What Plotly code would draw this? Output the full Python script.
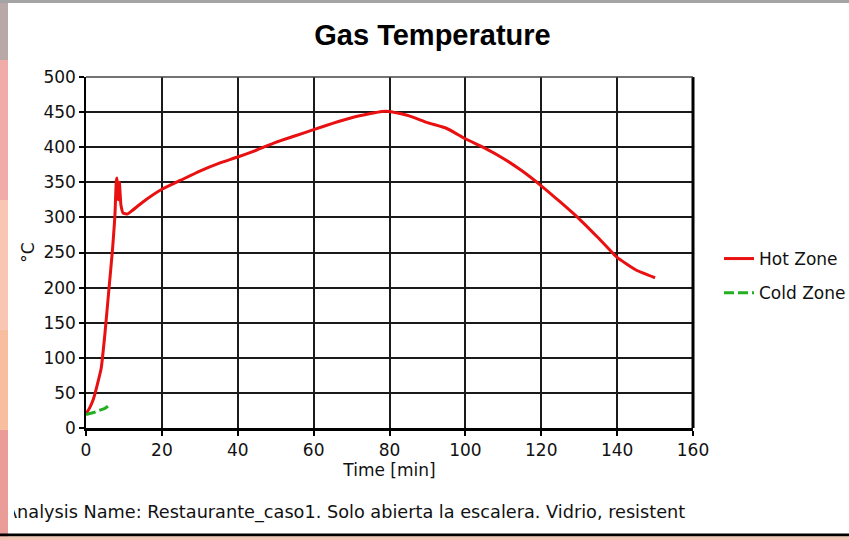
import plotly.graph_objects as go

# ---- data ----
hot_time = [0, 1, 2, 3, 4, 5, 6, 7, 7.6, 8.0, 8.2, 8.5, 8.8, 9.2, 9.8, 11, 12, 15,
            20, 25, 30, 35, 40, 45, 50, 55, 60, 65, 70, 75, 78, 80, 85, 90, 95,
            100, 105, 110, 115, 120, 125, 130, 135, 140, 145, 150]
hot_temp = [20, 29, 42, 62, 85, 135, 195, 255, 300, 352, 356, 325, 350, 318, 306, 305, 309, 322,
            340, 353, 366, 377, 386, 396, 407, 416, 425, 434, 442, 448, 451, 451, 445, 435, 427,
            412, 399, 384, 366, 345, 322, 298, 271, 243, 225, 214]

cold_time = [0, 1, 2, 3, 4, 5, 5.8]
cold_temp = [19, 20, 22, 24, 26, 28, 31]

x_ticks = [0, 20, 40, 60, 80, 100, 120, 140, 160]
y_ticks = [0, 50, 100, 150, 200, 250, 300, 350, 400, 450, 500]

W, H = 849, 540
L, R, T, B = 86, 156, 77, 112
PW, PH = W - L - R, H - T - B


def px(xp):
    return (xp - L) / PW


def py(yp):
    return (H - B - yp) / PH


FONT = "DejaVu Sans"
FS = 17

fig = go.Figure()
fig.add_trace(go.Scatter(x=hot_time, y=hot_temp, mode="lines", name="Hot Zone",
                         legendgroup="a", line_shape="spline",
                         line=dict(color="#e81010", width=3, smoothing=0.4)))
fig.add_trace(go.Scatter(x=cold_time, y=cold_temp, mode="lines", name="Cold Zone",
                         legendgroup="b",
                         line=dict(color="#22b022", width=3, dash="10px,4px")))

shapes = []
# decorative frame of the screenshot
strip = [(0, 60, "#b8a8a8"), (60, 200, "#f0aca6"), (200, 330, "#f8c6b2"),
         (330, 430, "#f7bea0"), (430, 540, "#e99c98")]
for y0, y1, c in strip:
    shapes.append(dict(type="rect", xref="paper", yref="paper", x0=px(0), x1=px(8),
                       y0=py(y1), y1=py(y0), fillcolor=c, line=dict(width=0), layer="below"))
shapes.append(dict(type="rect", xref="paper", yref="paper", x0=px(0), x1=px(W),
                   y0=py(3), y1=py(0), fillcolor="#a4a4a4", line=dict(width=0), layer="below"))
shapes.append(dict(type="rect", xref="paper", yref="paper", x0=px(0), x1=px(W),
                   y0=py(536.5), y1=py(533.5), fillcolor="#000000", line=dict(width=0), layer="below"))
shapes.append(dict(type="rect", xref="paper", yref="paper", x0=px(0), x1=px(W),
                   y0=py(540), y1=py(536.5), fillcolor="#f2c4b4", line=dict(width=0), layer="below"))
# plot frame: right thick border, thin top border
shapes.append(dict(type="line", xref="paper", yref="paper", x0=1, x1=1, y0=0, y1=1,
                   line=dict(color="#000000", width=3), layer="above"))
shapes.append(dict(type="line", xref="paper", yref="paper", x0=0, x1=1, y0=1, y1=1,
                   line=dict(color="#444444", width=1.5), layer="above"))

annotations = [
    dict(text="Analysis Name: Restaurante_caso1. Solo abierta la escalera. Vidrio, resistent",
         xref="paper", yref="paper", x=px(3), y=py(512), xanchor="left", yanchor="middle",
         showarrow=False, font=dict(family=FONT, size=17.7, color="#111111")),
    # screenshot crop edge hiding part of the first letter
    dict(text="\u00a0", xref="paper", yref="paper", x=px(8), y=py(512), xanchor="left",
         yanchor="middle", showarrow=False, width=6, height=30, bgcolor="#ffffff",
         borderpad=0, borderwidth=0),
    dict(text="\u00a0", xref="paper", yref="paper", x=px(0), y=py(512), xanchor="left",
         yanchor="middle", showarrow=False, width=8, height=30, bgcolor="#e99c98",
         borderpad=0, borderwidth=0),
]

fig.update_layout(
    width=W, height=H,
    margin=dict(l=L, r=R, t=T, b=B, autoexpand=False),
    paper_bgcolor="#ffffff", plot_bgcolor="#ffffff",
    title=dict(text="<b>Gas Temperature</b>", xref="container", yref="container",
               x=432.5 / W, y=1 - 35 / H, xanchor="center", yanchor="middle",
               font=dict(family="Liberation Sans", size=29, color="#000000")),
    font=dict(family=FONT, size=FS, color="#111111"),
    xaxis=dict(range=[0, 160], tickvals=x_ticks, ticktext=[str(v) for v in x_ticks],
               showgrid=True, gridcolor="#1a1a1a", gridwidth=1.5, zeroline=False,
               showline=True, linecolor="#000000", linewidth=3,
               ticks="outside", ticklen=5, tickwidth=1.5, tickcolor="#000000",
               tickfont=dict(family=FONT, size=FS, color="#111111"),
               title=dict(text="Time [min]", standoff=5,
                          font=dict(family=FONT, size=FS, color="#111111"))),
    yaxis=dict(range=[0, 500], tickvals=y_ticks, ticktext=[str(v) for v in y_ticks],
               showgrid=True, gridcolor="#1a1a1a", gridwidth=1.5, zeroline=False,
               showline=True, linecolor="#000000", linewidth=1.5,
               ticks="outside", ticklen=5, tickwidth=1.5, tickcolor="#000000",
               tickfont=dict(family=FONT, size=FS, color="#111111"),
               title=dict(text="°C", standoff=4,
                          font=dict(family=FONT, size=FS, color="#111111"))),
    legend=dict(x=px(719), y=py(276), xanchor="left", yanchor="middle",
                traceorder="grouped", tracegroupgap=9,
                font=dict(family=FONT, size=FS, color="#111111"),
                bgcolor="rgba(0,0,0,0)"),
    shapes=shapes,
    annotations=annotations,
)

fig.write_html("out.html", config={"displayModeBar": False},
               post_script="document.body.style.margin='0';document.body.style.overflow='hidden';")
